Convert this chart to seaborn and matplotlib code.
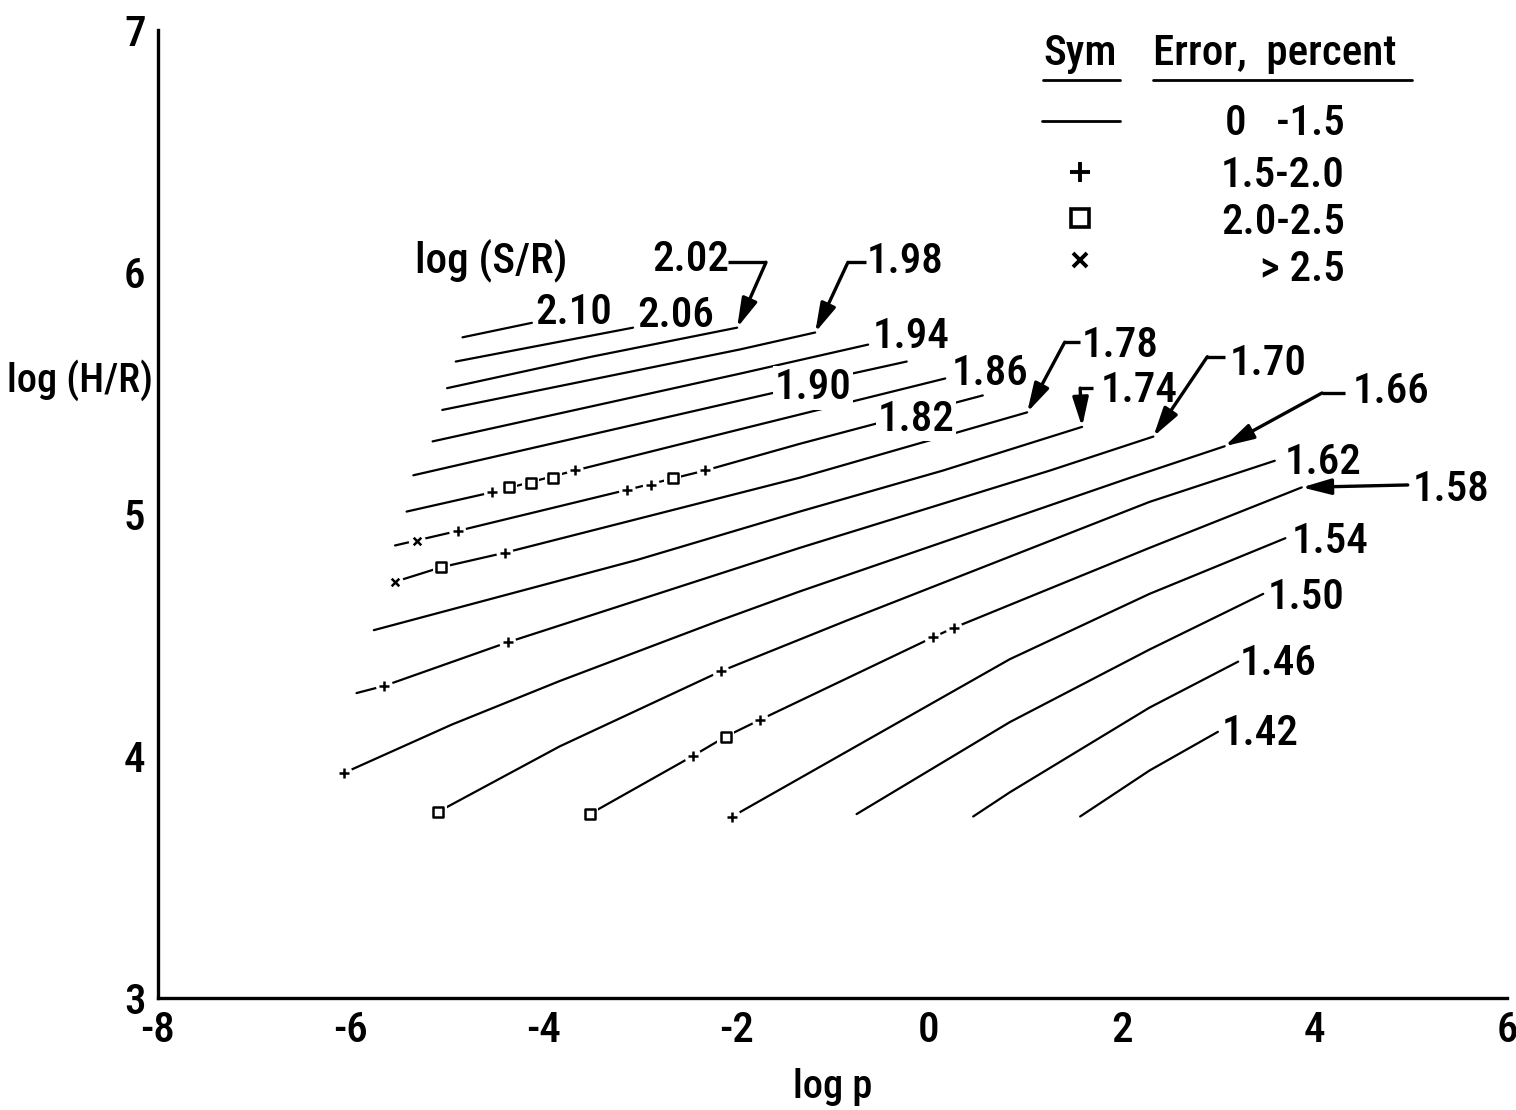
import matplotlib
matplotlib.use("Agg")
import matplotlib.pyplot as plt
from matplotlib import font_manager as fm
import numpy as np
import pandas as pd
import seaborn as sns

# ---------------- data: contours of log(S/R) in (log p, log H/R) ----------------
levels = ["2.10", "2.06", "2.02", "1.98", "1.94", "1.90", "1.86", "1.82", "1.78",
          "1.74", "1.70", "1.66", "1.62", "1.58", "1.54", "1.50", "1.46", "1.42"]

x_210 = [-4.84, -4.12]
y_210 = [5.73, 5.79]
x_206 = [-4.91, -3.07]
y_206 = [5.63, 5.77]
x_202 = [-5.00, -3.50, -1.99]
y_202 = [5.52, 5.65, 5.77]
x_198 = [-5.05, -1.96, -1.18]
y_198 = [5.43, 5.68, 5.75]
x_194 = [-5.15, -1.96, -0.63]
y_194 = [5.30, 5.58, 5.70]
x_190 = [-5.35, -1.62, -0.80, -0.23]
y_190 = [5.16, 5.50, 5.58, 5.63]
x_186 = [-5.42, -4.53, -3.67, -1.96, 0.17]
y_186 = [5.01, 5.09, 5.18, 5.35, 5.56]
x_182 = [-5.54, -4.89, -3.13, -2.32, -1.34, 0.56]
y_182 = [4.87, 4.93, 5.10, 5.18, 5.29, 5.49]
x_178 = [-5.54, -5.06, -4.40, -1.34, 1.02]
y_178 = [4.72, 4.78, 4.84, 5.15, 5.42]
x_174 = [-5.76, -3.03, -1.34, 0.15, 1.59]
y_174 = [4.52, 4.81, 5.01, 5.18, 5.36]
x_170 = [-5.94, -5.65, -4.37, -1.34, 1.26, 2.33]
y_170 = [4.26, 4.29, 4.47, 4.86, 5.18, 5.32]
x_166 = [-6.07, -4.95, -3.83, -2.17, -1.34, 2.09, 3.07]
y_166 = [3.93, 4.13, 4.31, 4.56, 4.68, 5.15, 5.28]
x_162 = [-5.09, -3.83, -2.16, -0.85, 2.29, 3.59]
y_162 = [3.77, 4.04, 4.35, 4.56, 5.05, 5.22]
x_158 = [-3.52, -2.45, -2.11, -1.75, 0.04, 0.26, 2.29, 3.87]
y_158 = [3.76, 4.00, 4.08, 4.15, 4.49, 4.53, 4.86, 5.11]
x_154 = [-2.04, 0.84, 2.29, 3.70]
y_154 = [3.75, 4.40, 4.67, 4.90]
x_150 = [-0.75, 0.84, 2.29, 3.47]
y_150 = [3.76, 4.14, 4.44, 4.67]
x_146 = [0.46, 0.84, 2.29, 3.21]
y_146 = [3.75, 3.85, 4.20, 4.39]
x_142 = [1.57, 2.29, 3.00]
y_142 = [3.75, 3.94, 4.10]

# error symbols on the contours
plus_x = [-4.53, -3.67, -4.89, -3.13, -2.88, -2.32, -4.40, -5.65, -4.37, -6.07,
          -2.16, -2.45, -1.75, 0.04, 0.26, -2.04]
plus_y = [5.09, 5.18, 4.93, 5.10, 5.12, 5.18, 4.84, 4.29, 4.47, 3.93,
          4.35, 4.00, 4.15, 4.49, 4.53, 3.75]
square_x = [-4.36, -4.13, -3.90, -2.66, -5.06, -5.09, -3.52, -2.11]
square_y = [5.11, 5.13, 5.15, 5.15, 4.78, 3.77, 3.76, 4.08]
cross_x = [-5.31, -5.54]
cross_y = [4.89, 4.72]

# contour labels (left edge x, centre y)
label_x = [-4.08, -3.03, -2.87, -0.65, -0.58, -1.60, 0.24, -0.53, 1.59,
           1.78, 3.12, 4.40, 3.69, 5.02, 3.77, 3.52, 3.23, 3.04]
label_y = [5.85, 5.84, 6.07, 6.06, 5.75, 5.54, 5.60, 5.41, 5.715,
           5.53, 5.64, 5.525, 5.23, 5.12, 4.905, 4.675, 4.40, 4.11]

# leader arrows: level -> (start x, elbow x, elbow y)
leaders = {
    "2.02": (-2.085, -1.69, 6.04),
    "1.98": (-0.65, -0.84, 6.04),
    "1.78": (1.57, 1.41, 5.71),
    "1.74": (1.70, 1.57, 5.52),
    "1.70": (3.07, 2.89, 5.65),
    "1.66": (4.32, 4.08, 5.50),
    "1.58": (4.97, 4.97, 5.12),
}

x_ticks = [-8, -6, -4, -2, 0, 2, 4, 6]
y_ticks = [3, 4, 5, 6, 7]

legend_sym = ["line", "+", "s", "x"]
legend_txt = ["0   -1.5", "1.5-2.0", "2.0-2.5", "> 2.5"]

# ---------------- build table ----------------
xs = [x_210, x_206, x_202, x_198, x_194, x_190, x_186, x_182, x_178,
      x_174, x_170, x_166, x_162, x_158, x_154, x_150, x_146, x_142]
ys = [y_210, y_206, y_202, y_198, y_194, y_190, y_186, y_182, y_178,
      y_174, y_170, y_166, y_162, y_158, y_154, y_150, y_146, y_142]
rows = []
for lev, xv, yv in zip(levels, xs, ys):
    for i, (a, b) in enumerate(zip(xv, yv)):
        rows.append({"level": lev, "i": i, "logp": a, "logH": b})
df = pd.DataFrame(rows)
ends = {lev: (xv[-1], yv[-1]) for lev, xv, yv in zip(levels, xs, ys)}

# ---------------- font selection (prefer a condensed sans) ----------------
sns.set_theme(style="white")
entries = fm.fontManager.ttflist
names = {f.name for f in entries}
stretch = "normal"
if "Liberation Sans Narrow" in names:
    FONT, FS, FSA = ["Liberation Sans Narrow", "DejaVu Sans"], 31, 29
elif "Roboto Condensed" in names:
    FONT, FS, FSA = ["Roboto Condensed", "DejaVu Sans"], 31, 29
elif any(f.name == "DejaVu Sans" and str(f.stretch) in ("condensed", "semi-condensed")
         for f in entries):
    FONT, FS, FSA, stretch = ["DejaVu Sans"], 27, 26, "condensed"
elif "Roboto" in names:
    FONT, FS, FSA = ["Roboto", "DejaVu Sans"], 27, 26
else:
    FONT, FS, FSA = ["DejaVu Sans"], 25, 24
plt.rcParams["font.family"] = FONT
plt.rcParams["font.stretch"] = stretch
plt.rcParams["font.weight"] = "medium"
plt.rcParams["axes.labelweight"] = "medium"
plt.rcParams["axes.unicode_minus"] = False
for k in ("text.color", "axes.labelcolor", "xtick.color", "ytick.color"):
    plt.rcParams[k] = "black"

fig = plt.figure(figsize=(15.16, 11.10), dpi=100)
ax = fig.add_axes([158 / 1516, 112 / 1110, 1349 / 1516, 968 / 1110])

sns.lineplot(data=df, x="logp", y="logH", units="level", estimator=None,
             sort=False, color="black", lw=1.6, ax=ax, zorder=2)

# white halos to break the line around the symbols
sns.scatterplot(x=plus_x + cross_x, y=plus_y + cross_y, marker="o", s=150,
                color="white", edgecolor="none", ax=ax, zorder=3)
sns.scatterplot(x=plus_x, y=plus_y, marker="+", s=55, color="black",
                linewidth=1.8, ax=ax, zorder=4)
sns.scatterplot(x=square_x, y=square_y, marker="s", s=150, color="white",
                edgecolor="none", ax=ax, zorder=3)
sns.scatterplot(x=square_x, y=square_y, marker="s", s=60, facecolor="white",
                edgecolor="black", linewidth=1.8, ax=ax, zorder=4)
sns.scatterplot(x=cross_x, y=cross_y, marker="x", s=30, color="black",
                linewidth=1.8, ax=ax, zorder=4)

for lev, lx, ly in zip(levels, label_x, label_y):
    kw = {}
    if lev in ("1.90", "1.82"):
        kw["bbox"] = dict(facecolor="white", edgecolor="none", pad=1.0)
    ax.text(lx, ly, lev, fontsize=FS, ha="left", va="center_baseline",
            zorder=5, **kw)

ax.text(-5.33, 6.07, "log (S/R)", fontsize=FS, ha="left", va="center_baseline")

for lev, (sx, ex, ey) in leaders.items():
    tx, ty = ends[lev]
    if sx != ex:
        ax.plot([sx, ex], [ey, ey], color="black", lw=2.4, solid_capstyle="butt",
                zorder=5)
    ax.annotate("", xy=(tx, ty), xytext=(ex, ey),
                arrowprops=dict(arrowstyle="-|>,head_length=1.1,head_width=0.3",
                                lw=2.4, color="black", shrinkA=0, shrinkB=0,
                                mutation_scale=16), zorder=5)

# ---------------- legend table (axes fraction) ----------------
tA = ax.transAxes
ax.text(0.6835, 0.9638, "Sym", fontsize=FS, ha="center", va="baseline", transform=tA)
ax.text(0.7376, 0.9638, "Error,  percent", fontsize=FS, ha="left", va="baseline",
        transform=tA)
ax.plot([0.656, 0.7131], [0.9483, 0.9483], color="black", lw=2.0, transform=tA)
ax.plot([0.7376, 0.9296], [0.9483, 0.9483], color="black", lw=2.0, transform=tA)
sym_y = [0.906, 0.8535, 0.8058, 0.7624]
txt_y = [0.8915, 0.8378, 0.7893, 0.7407]
for sym, txt, sy, ty in zip(legend_sym, legend_txt, sym_y, txt_y):
    if sym == "line":
        ax.plot([0.6553, 0.7131], [sy, sy], color="black", lw=2.0, transform=tA)
    elif sym == "s":
        ax.plot([0.6835], [sy], marker="s", ms=13, mfc="white", mec="black",
                mew=2.6, transform=tA)
    else:
        ax.plot([0.6835], [sy], marker=sym, ms=14 if sym == "+" else 10,
                color="black", mew=2.8, transform=tA)
    ax.text(0.8799, ty, txt, fontsize=FS, ha="right", va="baseline", transform=tA)

# ---------------- axes ----------------
ax.set_xlim(-8, 6)
ax.set_ylim(3, 7)
ax.set_xticks(x_ticks)
ax.set_yticks(y_ticks)
ax.set_xticklabels([str(t) for t in x_ticks])
ax.set_yticklabels([str(t) for t in y_ticks])
ax.tick_params(direction="in", length=9, width=1.3, labelsize=FS, pad=9,
               colors="black")
sns.despine(ax=ax)
for s in ("left", "bottom"):
    ax.spines[s].set_linewidth(2.4)
    ax.spines[s].set_color("black")

ax.set_xlabel("log p", fontsize=FSA, va="top", fontweight="medium")
ax.xaxis.set_label_coords(0.5, -0.072)
ax.set_ylabel("log (H/R)", fontsize=FSA, rotation=0, ha="right", va="center",
              fontweight="medium")
ax.yaxis.set_label_coords(-0.004, 0.638)

fig.savefig("out.png", dpi=100, facecolor="white")
